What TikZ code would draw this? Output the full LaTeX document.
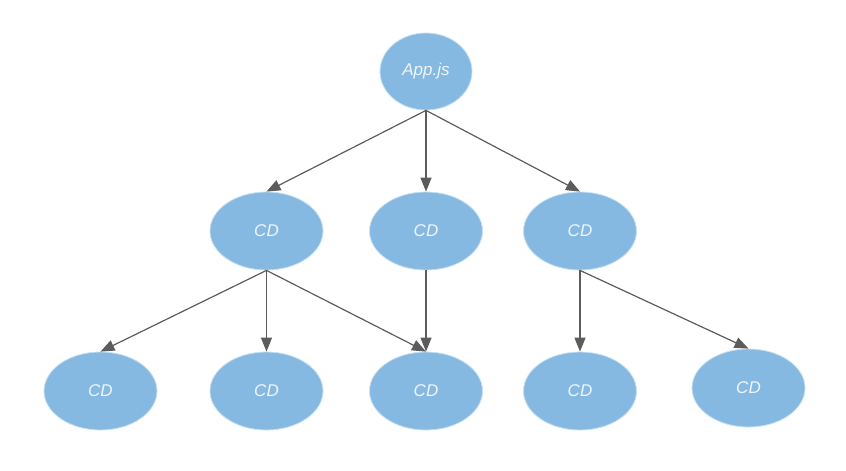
\documentclass[tikz,border=0pt]{standalone}
\usepackage{fontspec}
\setmainfont{Liberation Sans}
\usetikzlibrary{shapes.geometric,arrows.meta}
\definecolor{nodefill}{HTML}{86B9E1}
\definecolor{nodeedge}{HTML}{C4E0F2}
\definecolor{nodetext}{HTML}{EEF5FB}
\definecolor{edgecol}{HTML}{5C5C5C}
\tikzset{
  cdnode/.style={ellipse, fill=nodefill, draw=nodeedge, line width=0.8pt, minimum width=113pt, minimum height=78pt, inner sep=0pt,
    text=nodetext, font=\fontsize{17}{17}\selectfont\itshape},
  appnode/.style={cdnode, minimum width=92pt, minimum height=77pt},
  link/.style={draw=edgecol, line width=1.2pt, -{Triangle[length=14pt,width=11pt]}}
}
\begin{document}
\begin{tikzpicture}[x=1pt,y=-1pt]
\useasboundingbox (0,0) rectangle (846,471);
\node[appnode] (app) at (426,71.5) {App.js};
\node[cdnode] (m1) at (266.5,231) {CD};
\node[cdnode] (m2) at (426,231) {CD};
\node[cdnode] (m3) at (580,231) {CD};
\node[cdnode] (b1) at (100.5,391) {CD};
\node[cdnode] (b2) at (266.5,391) {CD};
\node[cdnode] (b3) at (426,391) {CD};
\node[cdnode] (b4) at (580,391) {CD};
\node[cdnode] (b5) at (748.5,388) {CD};
\draw[link] (app.south) -- (m1.north);
\draw[link] (app.south) -- (m2.north);
\draw[link] (app.south) -- (m3.north);
\draw[link] (m1.south) -- (b1.north);
\draw[link] (m1.south) -- (b2.north);
\draw[link] (m1.south) -- (b3.north);
\draw[link] (m2.south) -- (b3.north);
\draw[link] (m3.south) -- (b4.north);
\draw[link] (m3.south) -- (b5.north);
\end{tikzpicture}
\end{document}
